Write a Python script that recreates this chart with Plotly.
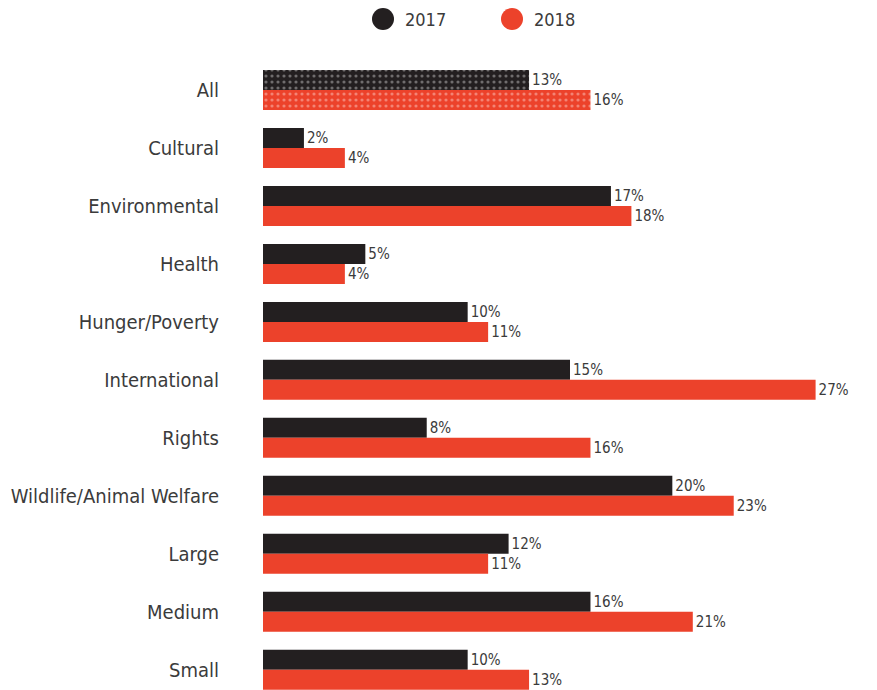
import plotly.graph_objects as go

categories = ["All", "Cultural", "Environmental", "Health", "Hunger/Poverty",
              "International", "Rights", "Wildlife/Animal Welfare", "Large",
              "Medium", "Small"]
values_2017 = [13, 2, 17, 5, 10, 15, 8, 20, 12, 16, 10]
values_2018 = [16, 4, 18, 4, 11, 27, 16, 23, 11, 21, 13]
series_names = ["2017", "2018"]

BLACK = "#231f20"
RED = "#ec422b"
TEXT = "#3b3b3b"
FONT = "Liberation Sans Narrow, DejaVu Sans Condensed, Arial Narrow, sans-serif"

# plot area geometry in pixels (used to place the legend in paper coords)
PLOT_L, PLOT_T, W, H = 263, 61, 877, 690
PLOT_W, PLOT_H = W - PLOT_L, H - PLOT_T


def px_x(p):
    return (p - PLOT_L) / PLOT_W


def px_y(p):
    return (H - p) / PLOT_H


# dotted fill only on the "All" row
patterns = ["."] + [""] * (len(categories) - 1)

fig = go.Figure()
for name, vals, col in [(series_names[0], values_2017, BLACK),
                        (series_names[1], values_2018, RED)]:
    fig.add_trace(go.Bar(
        name=name, y=categories, x=vals, orientation="h",
        marker=dict(color=col, line=dict(width=0),
                    pattern=dict(shape=patterns, fgcolor="rgba(255,255,255,0.7)",
                                 size=6, solidity=0.22, fillmode="overlay")),
        text=[f"{v}%" for v in vals], textposition="outside",
        textfont=dict(family=FONT, size=15, color=TEXT),
        cliponaxis=False, showlegend=False,
    ))

fig.update_layout(
    width=W, height=H,
    margin=dict(l=PLOT_L, r=0, t=PLOT_T, b=0),
    paper_bgcolor="white", plot_bgcolor="white",
    barmode="group", bargap=0.31, bargroupgap=0,
    font=dict(family=FONT, color=TEXT),
    xaxis=dict(range=[0, 30], visible=False),
    yaxis=dict(range=[10.35, -0.5], showgrid=False, zeroline=False, showline=False,
               ticks="", ticklabelstandoff=43,
               tickfont=dict(family=FONT, size=20, color=TEXT)),
)

# legend drawn as circles with labels above the plot
legend_items = [(series_names[0], BLACK, 383), (series_names[1], RED, 512)]
for name, col, cx in legend_items:
    fig.add_shape(type="circle", xref="paper", yref="paper",
                  x0=px_x(cx - 11), x1=px_x(cx + 11),
                  y0=px_y(30), y1=px_y(8),
                  fillcolor=col, line=dict(width=0), layer="above")
    fig.add_annotation(xref="paper", yref="paper",
                       x=px_x(cx + 20), y=px_y(19),
                       text=name, showarrow=False, xanchor="left", yanchor="middle",
                       font=dict(family=FONT, size=18, color=TEXT))

fig.write_html("out.html")
